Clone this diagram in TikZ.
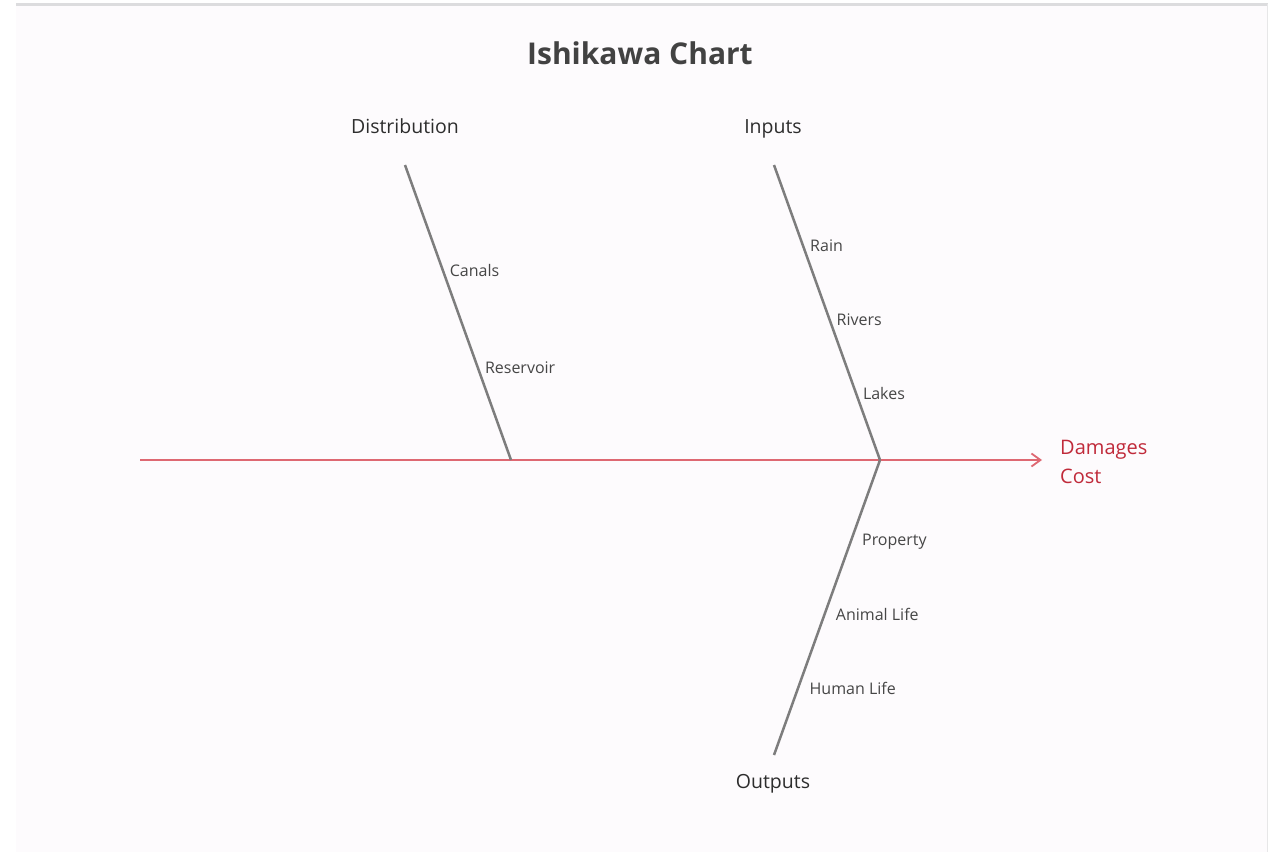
\documentclass[tikz,border=0pt]{standalone}
\usepackage{fontspec}
\setmainfont{Open Sans}
\usetikzlibrary{arrows.meta,positioning}
\definecolor{bonegray}{RGB}{125, 125, 125}
\definecolor{spinered}{RGB}{222, 104, 114}
\definecolor{effectred}{RGB}{192, 42, 58}
\definecolor{labeldark}{RGB}{45, 45, 45}
\definecolor{causedark}{RGB}{70, 70, 70}
\definecolor{panelfill}{RGB}{253, 251, 253}
\definecolor{panelline}{RGB}{220, 220, 222}

\begin{document}
\begin{tikzpicture}[x=1pt, y=-1pt,
    bone/.style={draw=bonegray, line width=2.5pt},
    category/.style={font=\fontsize{19.5}{23}\selectfont, text=labeldark, anchor=base},
    cause/.style={font=\fontsize{16}{19}\selectfont, text=causedark, right=2.5pt},
    lowcause/.style={cause, right=7pt}]
  \useasboundingbox (0,0) rectangle (1276,852);
  \fill[white] (0,0) rectangle (1276,852);
  \fill[panelfill] (16,4) rectangle (1268,852);
  \draw[panelline, line width=3pt] (16,4.5) -- (1268,4.5);
  \draw[panelline!70, line width=1.5pt] (1267.5,4) -- (1267.5,852);

  % title and effect
  \node[font=\fontsize{30}{34}\selectfont\bfseries, text=labeldark!90, anchor=base] (title)
    at (640,64) {Ishikawa Chart};
  \node[font=\fontsize{20}{29}\selectfont, text=effectred, align=left, anchor=north west,
        inner sep=0pt] (effect) at (1060,440) {Damages\\Cost};

  % spine
  \coordinate (tail) at (140,460);
  \coordinate (head) at (1042,460);
  \coordinate (joint) at (880,460);
  \draw[draw=spinered, line width=2.6pt, -{Straight Barb[length=9pt, width=13pt, line width=1.8pt]}]
    (tail) -- (head);

  % categories
  \node[category] (dist) at (405,133) {Distribution};
  \node[category] (inputs) at (773,133) {Inputs};
  \node[category] (outputs) at (773,788) {Outputs};
  \coordinate (distTop) at (405,165);
  \coordinate (distFoot) at (511,460);
  \coordinate (inputsTop) at (774,165);
  \coordinate (outputsEnd) at (774,755);

  % bones
  \draw[bone] (distTop) -- (distFoot)
    node[pos=0.356, cause] (canals) {Canals}
    node[pos=0.688, cause] (reservoir) {Reservoir};
  \draw[bone] (inputsTop) -- (joint)
    node[pos=0.275, cause] (rain) {Rain}
    node[pos=0.525, cause] (rivers) {Rivers}
    node[pos=0.773, cause] (lakes) {Lakes};
  \draw[bone] (joint) -- (outputsEnd)
    node[pos=0.278, lowcause] (property) {Property}
    node[pos=0.525, lowcause] (animal) {Animal Life}
    node[pos=0.773, lowcause] (human) {Human Life};
\end{tikzpicture}
\end{document}
